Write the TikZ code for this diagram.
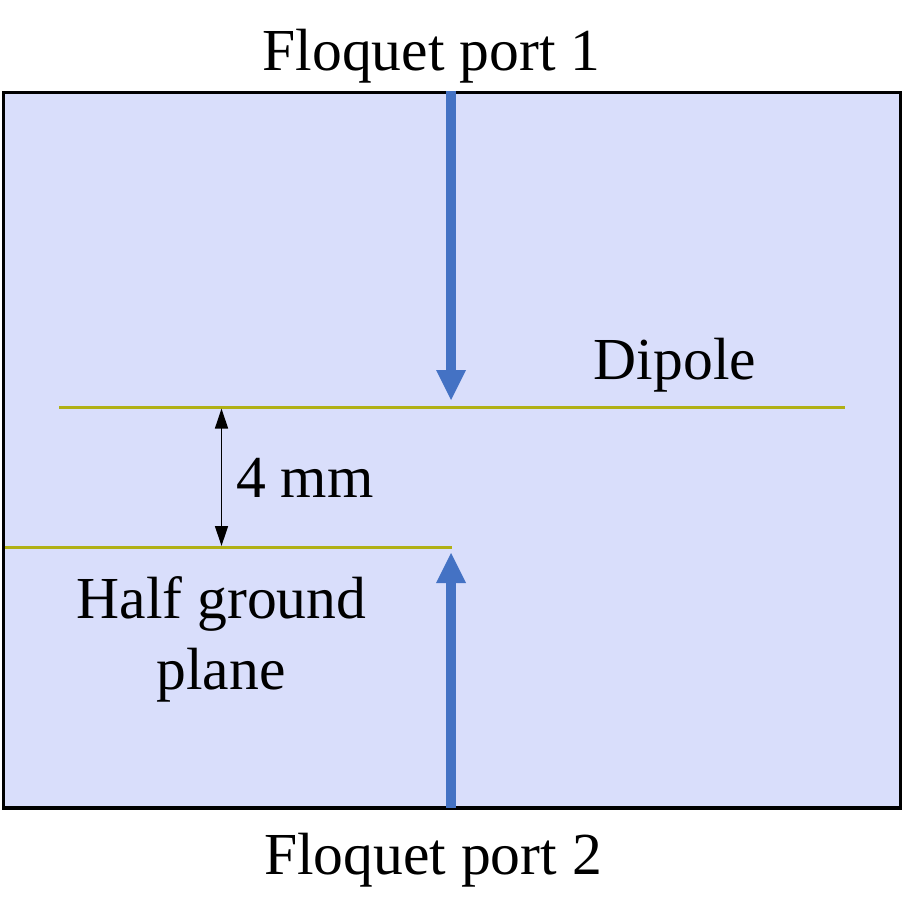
\documentclass[tikz,border=0pt]{standalone}
\usepackage{fontspec}
\setmainfont{Liberation Serif}
\usetikzlibrary{arrows.meta}
\definecolor{panel}{HTML}{D9DEFB}
\definecolor{portblue}{HTML}{4472C4}
\definecolor{metal}{HTML}{B0B015}
\tikzset{
  x=1pt,y=-1pt,
  panelbox/.style={draw=black,line width=3.2pt,fill=panel},
  portarrow/.style={draw=portblue,line width=10pt,-{Triangle[length=30pt,width=30pt,fill=portblue,line width=0pt]},shorten >=0pt},
  metalline/.style={draw=metal,line width=3.2pt},
  dimarrow/.style={draw=black,line width=1.3pt,{Triangle[length=20pt,width=13pt]}-{Triangle[length=20pt,width=13pt]}},
  lbl/.style={font=\fontsize{59.6pt}{70pt}\selectfont,anchor=base,inner sep=0pt,text=black}
}
\begin{document}
\begin{tikzpicture}
\useasboundingbox (0,0) rectangle (904,903);
\draw[panelbox] (3.5,92.5) rectangle (900.5,808);
\coordinate (p1s) at (451,91);
\coordinate (p1e) at (451,400);
\coordinate (p2s) at (451,808);
\coordinate (p2e) at (451,553);
\coordinate (dl) at (59,407.5);
\coordinate (dr) at (845,407.5);
\coordinate (gl) at (5,547.5);
\coordinate (gr) at (452,547.5);
\coordinate (dimt) at (221.5,408.5);
\coordinate (dimb) at (221.5,546);
\draw[metalline] (dl) -- (dr);
\draw[metalline] (gl) -- (gr);
\draw[portarrow] (p1s) -- (p1e);
\draw[portarrow] (p2s) -- (p2e);
\draw[dimarrow] (dimt) -- (dimb);
\node[lbl] (port1) at (431.5,70) {Floquet port 1};
\node[lbl] (port2) at (433,874) {Floquet port 2};
\node[lbl] (dipole) at (675,379) {Dipole};
\node[lbl] (gap) at (305,497) {4 mm};
\node[lbl] (half) at (221.5,618) {Half ground};
\node[lbl] (plane) at (221,689) {plane};
\end{tikzpicture}
\end{document}
